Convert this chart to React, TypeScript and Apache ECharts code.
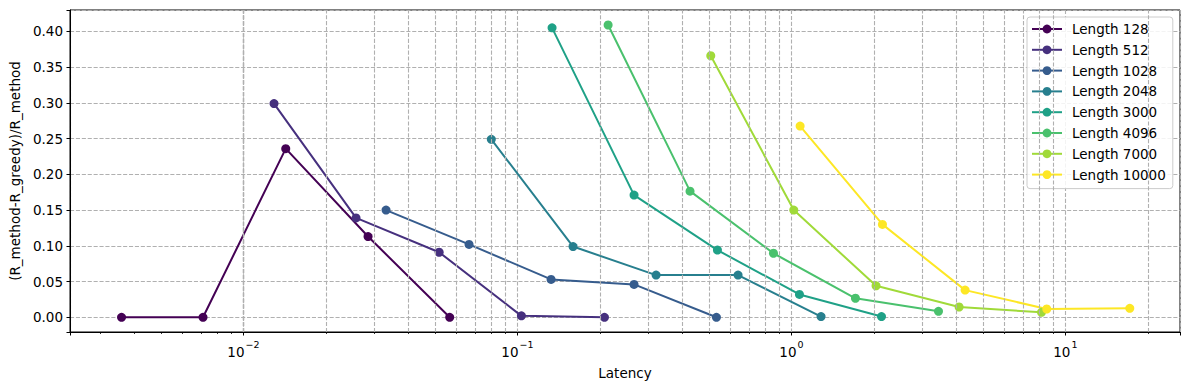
import React, { useEffect, useRef } from "react";
import * as echarts from "echarts";

// ---- data ----
const seriesNames = [
  "Length 128",
  "Length 512",
  "Length 1028",
  "Length 2048",
  "Length 3000",
  "Length 4096",
  "Length 7000",
  "Length 10000",
];
const seriesColors = ["#440154", "#46307e", "#365c8d", "#277f8e", "#1fa187", "#4ac16d", "#a0da39", "#fde725"];

const latency128 = [0.00359, 0.00712, 0.01427, 0.0285, 0.0566];
const gap128 = [0, 0, 0.236, 0.113, 0];
const latency512 = [0.01293, 0.02576, 0.0518, 0.1034, 0.2078];
const gap512 = [0.299, 0.139, 0.091, 0.002, 0];
const latency1028 = [0.03315, 0.0666, 0.1327, 0.2665, 0.5325];
const gap1028 = [0.15, 0.102, 0.053, 0.046, 0];
const latency2048 = [0.0803, 0.1596, 0.3207, 0.6387, 1.283];
const gap2048 = [0.249, 0.099, 0.059, 0.059, 0.001];
const latency3000 = [0.1338, 0.2665, 0.537, 1.07, 2.132];
const gap3000 = [0.405, 0.171, 0.094, 0.032, 0.001];
const latency4096 = [0.2143, 0.4266, 0.86, 1.713, 3.442];
const gap4096 = [0.409, 0.1765, 0.0896, 0.0266, 0.0084];
const latency7000 = [0.5078, 1.02, 2.037, 4.093, 8.18];
const gap7000 = [0.366, 0.15, 0.044, 0.0144, 0.007];
const latency10000 = [1.076, 2.149, 4.305, 8.55, 17.18];
const gap10000 = [0.2675, 0.13, 0.038, 0.0116, 0.0126];

const latencies = [latency128, latency512, latency1028, latency2048, latency3000, latency4096, latency7000, latency10000];
const gaps = [gap128, gap512, gap1028, gap2048, gap3000, gap4096, gap7000, gap10000];

// axis ranges
const xMin = 0.002328;
const xMax = 26.2;
const yMin = -0.0206;
const yMax = 0.43;
const yStep = 0.05;

// minor log gridline positions (2..9 x 10^k)
const minorDecades = [-3, -2, -1, 0, 1];
const minorMultipliers = [2, 3, 4, 5, 6, 7, 8, 9];

const FONT = "DejaVu Sans";
const GRID_COLOR = "#b0b0b0";
const GRID_DASH = [4.1, 1.8];
const GRID_WIDTH = 1.1;

export default function App() {
  const ref = useRef<HTMLDivElement>(null);

  useEffect(() => {
    if (!ref.current) return;
    const chart = echarts.init(ref.current, null, { renderer: "svg" });

    const minorValues: number[] = [];
    minorDecades.forEach((d) =>
      minorMultipliers.forEach((m) => {
        const v = m * Math.pow(10, d);
        if (v > xMin && v < xMax) minorValues.push(v);
      })
    );

    const series: any[] = [
      {
        name: "__minor",
        type: "line",
        data: [],
        silent: true,
        z: 1,
        markLine: {
          silent: true,
          symbol: ["none", "none"],
          label: { show: false },
          animation: false,
          lineStyle: { color: GRID_COLOR, width: GRID_WIDTH, type: GRID_DASH },
          data: minorValues.map((v) => ({ xAxis: v })),
        },
      },
    ];

    seriesNames.forEach((name, i) => {
      series.push({
        name,
        type: "line",
        z: 3,
        data: latencies[i].map((x, j) => [x, gaps[i][j]]),
        symbol: "circle",
        symbolSize: 9,
        showAllSymbol: true,
        lineStyle: { color: seriesColors[i], width: 2 },
        itemStyle: { color: seriesColors[i] },
        emphasis: { disabled: true },
      });
    });

    chart.setOption({
      animation: false,
      textStyle: { fontFamily: FONT },
      grid: {
        left: 70,
        right: 9,
        top: 10,
        bottom: 58,
        show: true,
        borderColor: "#000",
        borderWidth: 1,
        backgroundColor: "transparent",
      },
      legend: {
        data: seriesNames,
        orient: "vertical",
        left: 1027,
        top: 17,
        align: "left",
        itemWidth: 30,
        itemHeight: 11,
        itemGap: 4.8,
        padding: [4, 7, 6, 4],
        backgroundColor: "rgba(255,255,255,0.85)",
        borderColor: "#cccccc",
        borderWidth: 1,
        borderRadius: 3,
        textStyle: {
          fontFamily: FONT,
          fontSize: 13.5,
          color: "#000",
          lineHeight: 16,
          padding: [0, 0, 0, 5],
        },
      },
      xAxis: [
        {
          type: "log",
          logBase: 10,
          min: xMin,
          max: xMax,
          name: "Latency",
          nameLocation: "middle",
          nameGap: 34,
          nameTextStyle: { fontFamily: FONT, fontSize: 13.5, color: "#000" },
          axisLine: { show: true, onZero: false, lineStyle: { color: "#000", width: 1 } },
          axisTick: { show: true, length: 3.5, lineStyle: { color: "#000" } },
          splitLine: { show: true, lineStyle: { color: GRID_COLOR, width: GRID_WIDTH, type: GRID_DASH } },
          minorTick: { show: false },
          minorSplitLine: { show: false },
          axisLabel: {
            margin: 7,
            formatter: (v: number) => {
              const e = Math.log10(v);
              const r = Math.round(e);
              if (Math.abs(e - r) > 1e-6) return "";
              return `{base|10}{sup|${r < 0 ? "\u2212" : ""}${Math.abs(r)}}`;
            },
            rich: {
              base: { fontFamily: FONT, fontSize: 13.5, color: "#000", lineHeight: 20, verticalAlign: "bottom" },
              sup: { fontFamily: FONT, fontSize: 9.5, color: "#000", lineHeight: 20, verticalAlign: "top", padding: [0, 0, 0, 1] },
            },
          },
        },
        {
          type: "log",
          logBase: 10,
          min: xMin,
          max: xMax,
          position: "bottom",
          silent: true,
          axisLine: { show: false, onZero: false },
          axisTick: { show: true, length: 2, customValues: minorValues, lineStyle: { color: "#000", width: 0.8 } },
          axisLabel: { show: false },
          splitLine: { show: false },
        },
      ],
      yAxis: {
        type: "value",
        min: yMin,
        max: yMax,
        splitNumber: 9,
        name: "(R_method-R_greedy)/R_method",
        nameLocation: "middle",
        nameGap: 47,
        nameTextStyle: { fontFamily: FONT, fontSize: 13.5, color: "#000" },
        axisLine: { show: true, onZero: false, lineStyle: { color: "#000", width: 1 } },
        axisTick: { show: true, length: 3.5, lineStyle: { color: "#000" } },
        splitLine: { show: true, lineStyle: { color: GRID_COLOR, width: GRID_WIDTH, type: GRID_DASH } },
        axisLabel: {
          margin: 7,
          fontFamily: FONT,
          fontSize: 13.5,
          color: "#000",
          formatter: (v: number) => {
            const k = v / yStep;
            if (Math.abs(k - Math.round(k)) > 1e-6) return "";
            return (Math.round(k) * yStep).toFixed(2);
          },
        },
      },
      series,
    });

    return () => chart.dispose();
  }, []);

  return (
    <div
      ref={ref}
      style={{ position: "absolute", left: 0, top: 0, width: 1189, height: 390, background: "#fff" }}
    />
  );
}
